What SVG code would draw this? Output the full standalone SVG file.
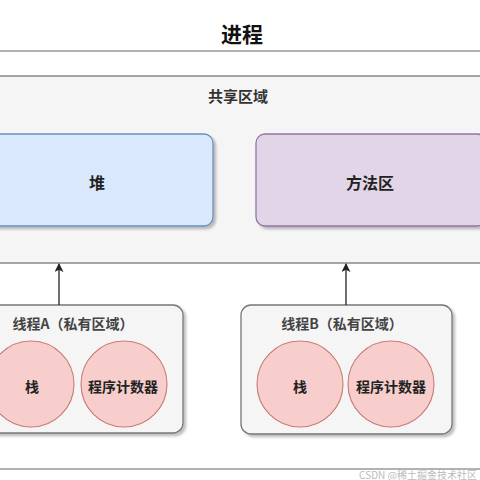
<svg xmlns="http://www.w3.org/2000/svg" width="480" height="480" viewBox="0 0 480 480">
<defs>
<filter id="sh" x="-10%" y="-10%" width="130%" height="130%">
<feDropShadow dx="2.5" dy="2.5" stdDeviation="1" flood-color="#000" flood-opacity="0.25"/>
</filter>
<marker id="arr" viewBox="0 0 10 10" refX="9" refY="5" markerWidth="9" markerHeight="9" orient="auto" markerUnits="userSpaceOnUse">
<path d="M0,0 L10,5 L0,10 L2.5,5 Z" fill="#222"/>
</marker>
</defs>
<style>
text{font-family:"Noto Sans CJK SC","Noto Sans",sans-serif;font-weight:bold;text-anchor:middle;dominant-baseline:central;fill:#222}
.frame{fill:#fff;stroke:#999;stroke-width:1.5}
.shared{fill:#f5f5f5;stroke:#888;stroke-width:1.5}
.thread{fill:#f5f5f5;stroke:#777;stroke-width:1.3;filter:url(#sh)}
.circ{fill:#f8cecc;stroke:#c87a77;stroke-width:1.1}
.conn{stroke:#222;stroke-width:1.3;fill:none}
</style>
<rect width="480" height="480" fill="#fff"/>
<g id="process">
<rect class="frame" x="-20" y="51" width="520" height="418"/>
<text x="242" y="33" style="font-size:21px;fill:#111">进程</text>
</g>
<g id="shared">
<rect class="shared" x="-20" y="76" width="520" height="187"/>
<text x="238" y="95" style="font-size:15px;fill:#333">共享区域</text>
</g>
<g id="heap">
<rect x="-18" y="134" width="231" height="92" rx="9" fill="#dae8fc" stroke="#6c8ebf" stroke-width="1.3" filter="url(#sh)"/>
<text x="97" y="182" style="font-size:16px">堆</text>
</g>
<g id="method">
<rect x="256" y="134" width="230" height="92" rx="9" fill="#e1d5e7" stroke="#9673a6" stroke-width="1.3" filter="url(#sh)"/>
<text x="370" y="182" style="font-size:16px">方法区</text>
</g>
<g id="threadA">
<rect class="thread" x="-29" y="305" width="212" height="128" rx="10"/>
<text x="73" y="323" style="font-size:14px;fill:#444">线程A（私有区域）</text>
</g>
<g id="stackA">
<circle class="circ" cx="31" cy="384" r="43"/>
<text x="32" y="386" style="font-size:14px">栈</text>
</g>
<g id="pcA">
<circle class="circ" cx="124" cy="384" r="43"/>
<text x="123" y="386" style="font-size:14px">程序计数器</text>
</g>
<g id="threadB">
<rect class="thread" x="241" y="305" width="211" height="129" rx="10"/>
<text x="342" y="323" style="font-size:14px;fill:#444">线程B（私有区域）</text>
</g>
<g id="stackB">
<circle class="circ" cx="300" cy="384" r="43"/>
<text x="300" y="386" style="font-size:14px">栈</text>
</g>
<g id="pcB">
<circle class="circ" cx="391" cy="384" r="43"/>
<text x="391" y="386" style="font-size:14px">程序计数器</text>
</g>
<g id="connectors">
<line class="conn" x1="59" y1="305" x2="59" y2="264" marker-end="url(#arr)"/>
<line class="conn" x1="346" y1="305" x2="346" y2="264" marker-end="url(#arr)"/>
</g>
<g id="watermark">
<text x="477" y="474" style="font-size:10px;font-weight:normal;fill:#bbb;text-anchor:end">CSDN @稀土掘金技术社区</text>
</g>
</svg>
